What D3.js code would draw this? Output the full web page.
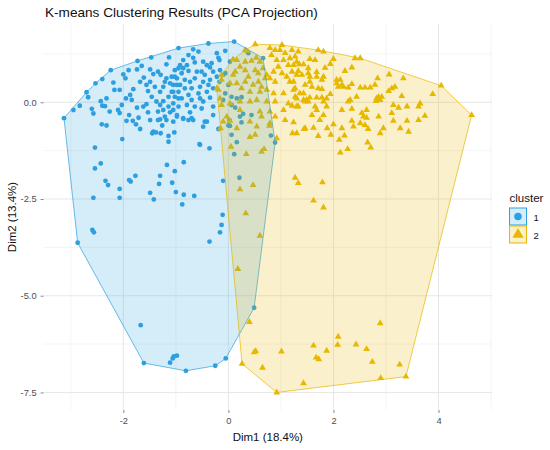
<!DOCTYPE html>
<html>
<head>
<meta charset="utf-8">
<script src="https://cdn.jsdelivr.net/npm/d3@7"></script>
<style>
  body { margin: 0; background: #fff; }
  text { font-family: "Liberation Sans", Arial, sans-serif; }
</style>
</head>
<body>
<svg id="chart" width="550" height="450"></svg>
<script>
// cluster labels + colours
const clusters = ['1', '2']
const colors = ['#2E9FDF', '#E7B800']

// tick values
const xTicks = [-2, 0, 2, 4]
const xMinor = [-3, -1, 1, 3, 5]
const yTicks = [0, -2.5, -5, -7.5]
const yMinor = [1.25, -1.25, -3.75, -6.25]

// cluster 1 : [Dim1, Dim2]
const cluster1 = [
  [-3.13,-0.41],[-2.95,-0.20],[-2.83,-0.09],[-2.70,0.26],[-2.67,0.13],[-2.53,0.49],[-2.40,0.60],[-2.24,0.83],[-2.60,-0.17],[-2.57,-0.29],
  [-2.43,0.03],[-2.40,-0.09],[-2.35,-0.10],[-2.32,0.10],[-2.19,0.51],[-2.17,0.32],[-2.07,0.32],[-2.00,0.72],[-1.96,0.62],[-1.90,0.83],
  [-1.73,1.07],[-1.74,0.85],[-1.65,0.94],[-1.47,1.16],[-1.13,1.16],[-1.18,0.98],[-1.49,0.85],[-1.43,0.73],[-1.34,0.79],[-1.61,0.64],
  [-1.68,0.53],[-1.81,0.34],[-1.87,0.19],[-1.84,0.06],[-1.95,0.10],[-2.03,-0.07],[-2.10,-0.20],[-2.07,-0.28],[-1.89,-0.33],[-1.82,-0.48],
  [-1.76,-0.57],[-1.94,-0.48],[-1.56,-0.05],[-1.53,-0.26],[-1.62,-0.11],[-1.74,-0.14],[-1.71,-0.40],[-1.68,-0.69],[-1.49,-0.46],[-1.43,-0.76],
  [-1.30,-0.44],[-1.34,-0.24],[-1.24,-0.20],[-1.37,0.02],[-1.46,0.14],[-1.53,0.29],[-1.56,0.45],[-1.49,0.53],[-1.40,0.40],[-1.30,0.27],
  [-1.24,0.40],[-1.18,0.62],[-1.29,0.71],[-1.21,0.53],[-1.11,0.49],[-1.02,0.66],[-0.98,0.45],[-1.05,0.27],[-1.14,0.14],[-1.24,0.03],
  [-1.30,-0.07],[-1.14,-0.11],[-1.05,-0.03],[-1.11,-0.26],[-1.21,-0.37],[-1.05,-0.50],[-0.98,-0.33],[-0.95,0.10],[-0.95,0.88],[-2.41,-0.57],
  [-2.32,-0.60],[-2.26,-0.24],[-0.95,1.40],[-0.38,1.52],[0.11,1.57],
  [-0.67,1.37],[-0.57,1.31],[-0.76,1.22],[-0.22,1.27],[-0.19,1.15],[-0.06,1.33],[-0.17,1.09],[-0.86,1.09],[-0.67,1.15],[-0.64,1.03],
  [-0.48,1.05],[-0.41,0.96],[-0.32,1.01],[-0.35,0.90],[-0.79,0.96],[-0.86,0.88],[-0.92,0.96],[-1.02,0.83],[-1.08,0.66],[-0.98,0.62],
  [-0.89,0.75],[-0.76,0.81],[-0.60,0.79],[-0.51,0.79],[-0.45,0.71],[-0.29,0.79],[-0.16,0.83],[-0.10,0.71],[-0.22,0.66],[-0.35,0.58],
  [-0.48,0.53],[-0.64,0.62],[-0.73,0.53],[-0.83,0.58],[-0.92,0.45],[-1.05,0.45],[-1.08,0.27],[-0.95,0.27],[-0.83,0.36],[-0.70,0.36],
  [-0.54,0.40],[-0.38,0.45],[-0.29,0.36],[-0.41,0.27],[-0.57,0.23],[-0.76,0.19],[-0.89,0.10],[-1.02,0.14],[-0.70,0.06],[-0.54,0.10],
  [-0.48,0.02],[-0.35,0.12],[-0.64,-0.11],[-0.79,-0.07],[-0.95,-0.11],[-1.05,-0.20],[-0.73,-0.26],[-0.51,-0.16],[-0.29,-0.11],[-0.86,-0.41],
  [-0.70,-0.41],[-0.45,-0.50],[-0.29,-0.33],[-0.98,-0.37],[-0.48,-0.63],[0.03,1.05],[0.00,0.45],[-0.06,0.23],[0.06,0.14],[-0.10,0.06],
  [0.16,0.10],[0.25,0.13],[0.06,-0.07],[0.13,-0.14],[0.22,-0.37],[0.44,-0.33],[0.00,-0.60],[0.25,-0.52],[0.38,1.27],[0.66,1.14],
  [-0.17,0.53],[-0.06,0.75],
  [-0.10,-2.03],[0.21,-1.95],[-0.11,-2.91],[-0.13,-3.17],[-0.16,-3.36],[-0.36,-3.60],[0.11,-1.34],[0.16,-1.03],[0.06,-0.84],[0.03,-0.61],
  [0.02,-0.46],[0.28,-0.30],[0.81,-0.86],[0.89,-1.04],[-0.36,-1.19],[-0.54,-1.10],[-0.19,-0.69],[-0.41,-0.50],
  [-2.02,-0.95],[-2.54,-1.17],[-1.34,-0.46],[-1.18,-0.46],[-1.45,-0.80],[-1.38,-0.78],[-1.29,-0.80],[-1.14,-0.87],[-1.14,-1.02],[-1.03,-0.78],
  [-1.26,-0.60],[-0.86,-0.43],[-0.76,-0.46],[-0.67,-0.46],[-0.55,-1.08],
  [-2.54,-1.71],[-2.43,-1.58],[-2.34,-2.03],[-2.29,-2.14],[-2.07,-2.24],[-2.07,-2.47],[-2.57,-2.47],[-1.89,-2.01],[-1.86,-2.05],[-1.77,-1.90],
  [-1.30,-1.90],[-1.32,-2.11],[-1.49,-2.34],[-1.42,-2.51],[-1.17,-1.62],[-1.02,-1.78],[-0.85,-1.55],[-1.07,-2.08],[-1.00,-2.32],[-0.85,-2.39],
  [-0.65,-2.42],[-0.88,-2.64],[-2.59,-3.30],[-2.56,-3.36],[-2.87,-3.63],
  [-1.67,-5.76],[-1.61,-6.74],[-1.11,-6.73],[-1.06,-6.62],[-1.04,-6.57],[-0.98,-6.55],[-0.81,-6.94],[-0.25,-6.81],[-0.05,-6.62],[0.49,-5.31]
]

// cluster 2 : [Dim1, Dim2]
const cluster2 = [
  [0.35,1.33],[0.16,1.09],[0.22,0.92],[0.32,1.05],[0.44,1.07],[0.53,1.15],[0.60,1.05],[0.13,0.79],[0.32,0.83],[0.38,0.66],
  [0.51,0.83],[0.57,0.75],[0.66,0.88],[0.79,1.40],[0.89,1.35],[1.02,1.48],[0.98,1.35],[1.08,1.27],[0.82,1.22],[0.92,1.09],
  [1.05,1.09],[1.17,1.14],[1.14,0.96],[1.24,0.96],[0.95,0.92],[0.86,0.79],[0.73,0.71],[0.70,0.62],[0.79,0.62],[1.02,0.75],
  [1.21,0.79],[1.11,0.66],[1.30,0.71],[1.33,1.31],[1.30,1.05],[1.17,0.53],[0.89,0.53],[0.57,0.53],[0.63,0.40],[0.47,0.45],
  [0.32,0.53],[0.16,0.49],[0.03,0.49],[-0.13,0.58],[0.09,0.71],[0.25,0.36],[0.41,0.27],[0.60,0.27],[0.73,0.32],[0.86,0.23],
  [1.05,0.23],[1.24,0.32],[1.27,0.14],[0.89,0.02],[0.73,0.02],[0.54,0.06],[0.41,0.02],[0.22,0.02],[0.03,-0.03],[-0.13,-0.07],
  [-0.16,0.10],[-0.19,0.32],[0.60,-0.24],[0.79,-0.24],[1.14,-0.03],[1.33,-0.11],[1.05,-0.20],[0.22,-0.20],[-0.03,-0.37],[0.41,-0.50],
  [0.63,-0.37],[0.89,-0.37],[1.08,-0.46],[-0.10,-0.50],[0.16,-0.67],[0.54,-0.63],[0.79,-0.54],
  [1.21,1.35],[1.71,1.35],[1.81,1.31],[2.51,1.14],[2.41,1.14],[1.27,1.18],[1.55,1.12],[1.65,1.09],[2.00,1.12],[1.35,0.98],
  [1.43,0.98],[1.52,0.88],[1.84,0.89],[1.94,0.99],[2.35,0.90],[1.33,0.81],[1.40,0.71],[1.52,0.75],[1.55,0.66],[1.68,0.78],
  [1.68,0.66],[1.81,0.66],[1.78,0.58],[1.55,0.53],[1.46,0.45],[1.59,0.40],[1.71,0.36],[1.78,0.34],[2.06,0.58],[2.13,0.58],
  [2.06,0.49],[2.09,0.40],[2.16,0.45],[2.22,0.81],[2.19,0.40],[2.35,0.47],[2.28,0.38],[2.51,0.38],[2.60,0.38],[2.70,0.38],
  [2.79,0.45],[2.84,0.62],[3.06,0.72],[3.33,0.62],[3.11,0.36],[3.17,0.40],[3.05,0.29],[3.30,0.16],[1.24,0.53],[1.27,0.36],
  [1.36,0.23],[1.43,0.23],[1.30,0.10],[1.43,0.06],[1.49,0.06],[1.52,0.02],[1.46,0.02],[1.55,0.12],[1.68,0.12],[1.78,0.12],
  [1.87,0.10],[1.94,0.21],[1.81,0.02],[2.32,0.06],[2.28,0.02],[2.44,0.14],[2.82,0.10],[2.86,0.14],[2.89,0.06],[2.81,0.03],
  [2.92,0.14],[3.14,-0.07],[3.24,-0.14],[3.40,-0.11],[1.21,-0.09],[1.30,-0.11],[1.65,-0.11],[1.68,-0.20],[1.87,-0.11],[1.59,-0.33],
  [1.81,-0.33],[2.16,-0.20],[2.35,-0.17],[2.63,-0.20],[2.54,-0.28],[2.57,-0.37],[2.63,-0.40],[2.86,-0.37],[3.11,-0.28],[3.62,-0.11],
  [3.14,-0.48],[3.40,-0.48],[3.62,-0.46],[1.24,-0.52],[1.74,-0.46],[2.00,-0.57],[2.35,-0.48],[2.51,-0.54],[2.60,-0.59],[1.46,-0.67],
  [1.62,-0.66],[2.16,-0.67],[2.38,-0.63],[2.66,-0.69],[2.95,-0.67],[2.89,-0.80],[3.27,-0.67],[3.43,-0.76],
  [4.05,0.43],[4.63,-0.33],[3.89,0.21],[3.65,-0.03],[3.74,-0.35],
  [0.51,1.50],[-0.22,0.36],[-0.13,0.71],[0.09,1.11],[0.32,1.35],
  [-0.15,-0.67],[0.03,-0.48],[0.05,-1.15],[0.34,-1.34],[0.51,-0.84],[0.41,-0.90],[0.63,-1.28],[0.68,-1.21],[0.78,-0.61],[0.92,-0.93],
  [0.22,-2.25],[0.47,-2.14],[0.33,-2.87],[0.60,-3.45],[1.27,-1.95],[1.33,-2.09],[1.79,-2.07],[1.62,-2.54],[1.81,-2.72],[1.22,-0.80],
  [1.30,-0.80],[1.44,-0.69],[1.71,-0.87],[1.88,-0.67],[1.95,-0.84],[2.11,-0.97],[2.21,-0.86],[2.27,-1.21],[2.13,-1.30],[2.65,-1.04],
  [2.71,-1.17],
  [0.18,-4.31],[0.40,-5.68],[0.52,-6.43],[0.49,-6.46],[0.26,-6.76],[0.65,-6.86],[0.92,-7.50],[1.01,-6.44],[1.43,-7.26],[1.62,-6.29],
  [1.67,-6.60],[1.72,-6.64],[1.87,-6.42],[2.09,-6.06],[2.08,-6.27],[2.43,-6.26],[2.63,-6.38],[2.74,-6.71],[2.90,-7.13],[2.89,-5.71],
  [3.26,-6.78],[3.38,-7.09]
]

const groups = [cluster1, cluster2]

//panel
const W = 550, H = 450
const pLeft = 43.6, pRight = 492, pTop = 24, pBottom = 410

const allPts = cluster1.concat(cluster2)
// ggplot style 5% expansion
function expand(ext) {
  const pad = (ext[1] - ext[0]) * 0.05
  return [ext[0] - pad, ext[1] + pad]
}
const x = d3.scaleLinear().domain(expand(d3.extent(allPts, d => d[0]))).range([pLeft, pRight])
const y = d3.scaleLinear().domain(expand(d3.extent(allPts, d => d[1]))).range([pBottom, pTop])

const svg = d3.select('#chart')
    .attr('viewBox', '0 0 ' + W + ' ' + H)

svg.append('rect')
    .attr('width', W)
    .attr('height', H)
    .attr('fill', 'white')

//grid
const inX = v => v >= x.domain()[0] && v <= x.domain()[1]
const inY = v => v >= y.domain()[0] && v <= y.domain()[1]

const grid = svg.append('g')

grid.selectAll('.xminor')
    .data(xMinor.filter(inX))
    .enter()
    .append('line')
    .attr('x1', d => x(d)).attr('x2', d => x(d))
    .attr('y1', pTop).attr('y2', pBottom)
    .attr('stroke', '#EDEDED')
    .attr('stroke-width', 0.6)

grid.selectAll('.yminor')
    .data(yMinor.filter(inY))
    .enter()
    .append('line')
    .attr('y1', d => y(d)).attr('y2', d => y(d))
    .attr('x1', pLeft).attr('x2', pRight)
    .attr('stroke', '#EDEDED')
    .attr('stroke-width', 0.6)

grid.selectAll('.xmajor')
    .data(xTicks)
    .enter()
    .append('line')
    .attr('x1', d => x(d)).attr('x2', d => x(d))
    .attr('y1', pTop).attr('y2', pBottom)
    .attr('stroke', '#E4E4E4')
    .attr('stroke-width', 0.9)

grid.selectAll('.ymajor')
    .data(yTicks)
    .enter()
    .append('line')
    .attr('y1', d => y(d)).attr('y2', d => y(d))
    .attr('x1', pLeft).attr('x2', pRight)
    .attr('stroke', '#E4E4E4')
    .attr('stroke-width', 0.9)

//points
const tri = d3.symbol().type(d3.symbolTriangle).size(20)

svg.append('g')
    .selectAll('circle')
    .data(cluster1)
    .enter()
    .append('circle')
    .attr('cx', d => x(d[0]))
    .attr('cy', d => y(d[1]))
    .attr('r', 2.4)
    .attr('fill', colors[0])

svg.append('g')
    .selectAll('path')
    .data(cluster2)
    .enter()
    .append('path')
    .attr('d', tri)
    .attr('transform', d => 'translate(' + x(d[0]) + ',' + y(d[1]) + ')')
    .attr('fill', colors[1])

//convex hulls
groups.forEach((g, i) => {
    const hull = d3.polygonHull(g.map(d => [x(d[0]), y(d[1])]))
    svg.append('path')
        .attr('d', 'M' + hull.join('L') + 'Z')
        .attr('fill', colors[i])
        .attr('fill-opacity', 0.2)
        .attr('stroke', colors[i])
        .attr('stroke-width', 0.7)
        .attr('stroke-linejoin', 'round')
})

//axes
const xAxis = svg.append('g')
    .attr('transform', 'translate(0,' + pBottom + ')')
    .call(d3.axisBottom(x).tickValues(xTicks).tickSize(3).tickPadding(4))
const yAxis = svg.append('g')
    .attr('transform', 'translate(' + pLeft + ',0)')
    .call(d3.axisLeft(y).tickValues(yTicks).tickSize(3).tickPadding(4))

;[xAxis, yAxis].forEach(a => {
    a.select('.domain').remove()
    a.selectAll('line').attr('stroke', '#555').attr('stroke-width', 0.7)
    a.selectAll('text')
        .attr('fill', '#4D4D4D')
        .attr('font-size', '9.3px')
        .attr('font-family', '"Liberation Sans", Arial, sans-serif')
})
xAxis.selectAll('text').text(d => d.toFixed(0))
yAxis.selectAll('text').text(d => d.toFixed(1))

//titles
svg.append('text')
    .attr('x', 45)
    .attr('y', 17)
    .attr('font-size', '13.6px')
    .attr('fill', '#111')
    .text('K-means Clustering Results (PCA Projection)')

svg.append('text')
    .attr('x', (pLeft + pRight) / 2)
    .attr('y', 441)
    .attr('text-anchor', 'middle')
    .attr('font-size', '11.5px')
    .attr('fill', '#111')
    .text('Dim1 (18.4%)')

svg.append('text')
    .attr('transform', 'translate(16,' + ((pTop + pBottom) / 2) + ') rotate(-90)')
    .attr('text-anchor', 'middle')
    .attr('font-size', '11.5px')
    .attr('fill', '#111')
    .text('Dim2 (13.4%)')

//legend
const legend = svg.append('g')
    .attr('transform', 'translate(509.5,0)')

legend.append('text')
    .attr('x', 0)
    .attr('y', 202)
    .attr('font-size', '11.5px')
    .attr('fill', '#111')
    .text('cluster')

const keys = legend.selectAll('.key')
    .data(clusters)
    .enter()
    .append('g')
    .attr('transform', (d, i) => 'translate(0,' + (208 + i * 18) + ')')

keys.append('rect')
    .attr('width', 17)
    .attr('height', 17)
    .attr('fill', (d, i) => colors[i])
    .attr('fill-opacity', 0.2)
    .attr('stroke', (d, i) => colors[i])
    .attr('stroke-width', 1)

keys.append('path')
    .attr('d', (d, i) => d3.symbol().type(i === 0 ? d3.symbolCircle : d3.symbolTriangle).size(i === 0 ? 45 : 55)())
    .attr('transform', 'translate(8.5,8.5)')
    .attr('fill', (d, i) => colors[i])

keys.append('text')
    .attr('x', 24)
    .attr('y', 12.5)
    .attr('font-size', '9.5px')
    .attr('fill', '#111')
    .text(d => d)
</script>
</body>
</html>
